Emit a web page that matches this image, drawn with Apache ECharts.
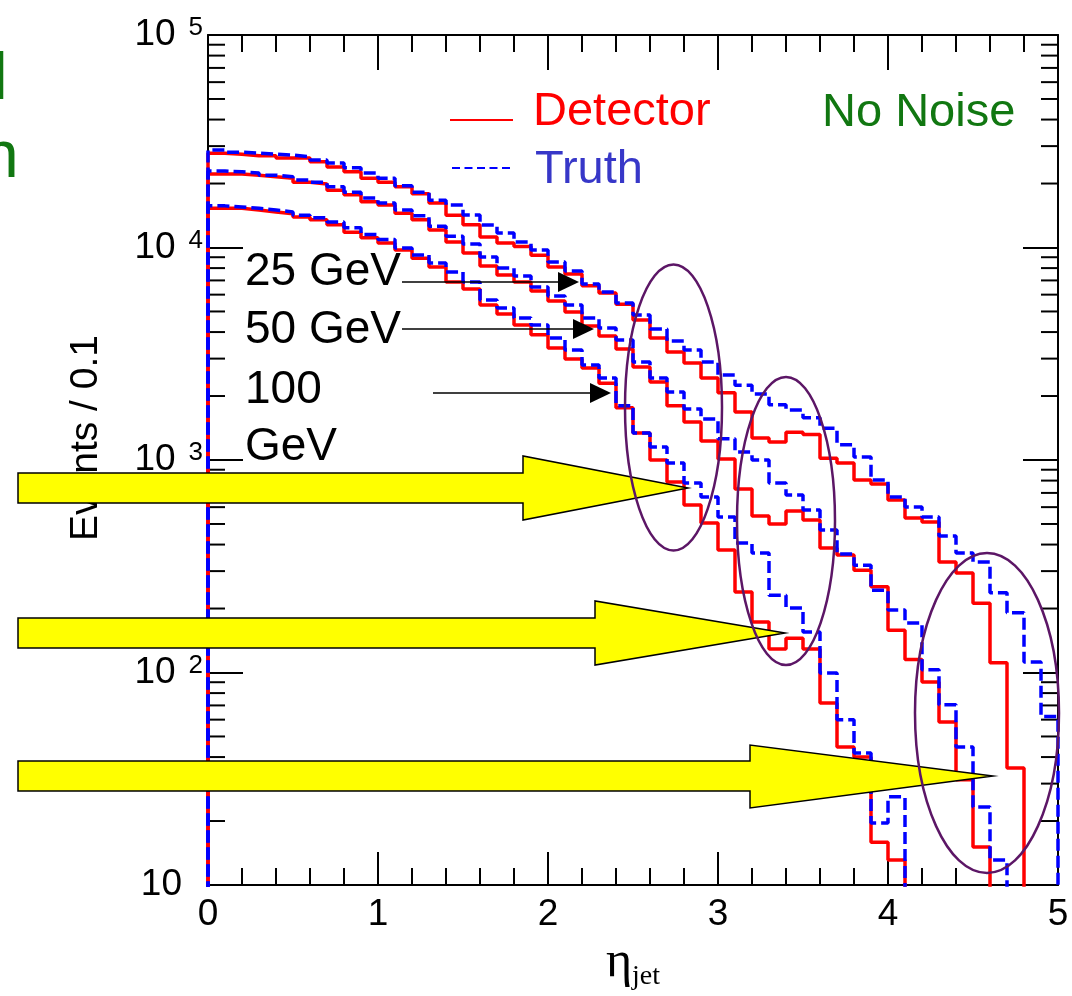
<!DOCTYPE html>
<html>
<head>
<meta charset="utf-8">
<script src="https://cdn.jsdelivr.net/npm/echarts@6/dist/echarts.min.js"></script>
<style>
html,body{margin:0;padding:0;background:#fff;}
#chart{width:1072px;height:996px;}
</style>
</head>
<body>
<div id="chart"></div>
<script>
// ---- data (events per 0.1 in eta; 0 = empty bin) ----
const ETA_LOW = [0.0,0.1,0.2,0.3,0.4,0.5,0.6,0.7,0.8,0.9,1.0,1.1,1.2,1.3,1.4,1.5,1.6,1.7,1.8,1.9,2.0,2.1,2.2,2.3,2.4,2.5,2.6,2.7,2.8,2.9,3.0,3.1,3.2,3.3,3.4,3.5,3.6,3.7,3.8,3.9,4.0,4.1,4.2,4.3,4.4,4.5,4.6,4.7,4.8,4.9];
const ETA_MAX = 5.0;

const DET_25 = [27800,27500,27000,27000,26400,26400,25300,23900,22700,21200,20300,19300,17900,16200,14200,12800,11200,10500,10100,9200,8100,7500,6600,6100,5400,4560,3750,3220,2860,2430,2070,1680,1270,1215,1350,1320,1020,968,805,771,648,534,511,331,294,212,111,35.5,0,0];
const TRUTH_25 = [28800,28100,27800,27500,27200,26700,25800,25000,23700,22400,21200,19500,18200,16700,15850,14220,12760,11700,10600,9730,8550,7750,6730,6170,5480,4810,4140,3630,3290,2890,2510,2250,2045,1820,1720,1580,1410,1180,1033,805,670,601,539,439,365,331,237,191,112,62];
const DET_50 = [22200,22200,21900,21500,21200,20300,19900,18600,17700,16400,15850,14500,13500,12090,10600,9420,8180,7420,6880,6240,5600,4970,4270,3830,3330,2740,2330,1800,1510,1230,1010,730,545,500,575,522,385,357,303,253,158,115,90.2,58.5,31.3,15.1,0,0,0,0];
const TRUTH_50 = [22900,22700,22400,21900,21500,20800,20300,19300,18200,17100,16200,15000,14100,12600,11300,10400,9020,8010,7340,6520,5910,5360,4660,4180,3670,2890,2430,2090,1740,1560,1260,1090,1000,780,684,581,468,361,320,244,197,171,103,70.5,44.6,23.3,13.1,0,0,0];
const DET_100 = [15300,15300,15000,14700,14400,13900,13500,12800,11800,11100,10500,9730,8900,8090,6880,6380,5360,4870,4320,3880,3370,2990,2710,2300,1760,1340,1000,788,614,505,377,239,173,129,145,129,71.9,44.6,40.0,15.9,13.1,0,0,0,0,0,0,0,0,0];
const TRUTH_100 = [15700,15500,15300,15000,14700,14200,13800,13200,12400,11500,10900,9950,9220,8460,7670,6880,5660,5190,4660,4320,3750,3290,2800,2430,1800,1340,1150,968,780,670,539,407,365,231,201,155,99.5,59.9,41.8,19.6,26.0,0,0,0,0,0,0,0,0,0];

// ---- axis decorations ----
const X_TICKS = [0,1,2,3,4,5];
const Y_MINOR = [20,30,40,50,60,70,80,90,200,300,400,500,600,700,800,900,2000,3000,4000,5000,6000,7000,8000,9000,20000,30000,40000,50000,60000,70000,80000,90000];
const Y_MIN = 10, Y_MAX = 100000;
const FLOOR = 1; // empty bins drawn below the axis minimum (clipped)

const SANS = "'Liberation Sans', Arial, sans-serif";
const SERIF = "'Liberation Serif', 'Times New Roman', serif";

function stepPoints(vals) {
  const pts = [[ETA_LOW[0], FLOOR]];
  vals.forEach((v, i) => pts.push([ETA_LOW[i], v > 0 ? v : FLOOR]));
  const last = vals[vals.length - 1];
  pts.push([ETA_MAX, last > 0 ? last : FLOOR]);
  pts.push([ETA_MAX, FLOOR]);
  return pts;
}

function histSeries(name, vals, color, dashed, z) {
  return {
    name: name, type: 'line', step: 'end', data: stepPoints(vals),
    symbol: 'none', showSymbol: false, clip: true, silent: true, z: z,
    lineStyle: { color: color, width: 3.5, type: dashed ? [12, 5] : 'solid' }
  };
}

const chart = echarts.init(document.getElementById('chart'), null, { renderer: 'canvas' });

const axisLineStyle = { color: '#000', width: 2 };

const txt = (text, x, y, fill, size, font) => ({
  type: 'text', z: 90, x: x, y: y,
  style: {
    text: text, fill: fill, font: size + 'px ' + (font || SANS),
    textAlign: 'left', textVerticalAlign: 'middle', align: 'left', verticalAlign: 'middle'
  }
});
const yellowArrow = (x0, sTop, sBot, baseX, hTop, hBot, tipX, tipY) => ({
  type: 'polygon', z: 100,
  shape: { points: [[x0, sTop], [baseX, sTop], [baseX, hTop], [tipX, tipY], [baseX, hBot], [baseX, sBot], [x0, sBot]] },
  style: { fill: '#ffff00', stroke: '#000', lineWidth: 1.5 }
});
const blackArrow = (x1, x2, y) => ([
  { type: 'line', z: 95, shape: { x1: x1, y1: y, x2: x2 - 18, y2: y }, style: { stroke: '#000', lineWidth: 1.5 } },
  { type: 'polygon', z: 95, shape: { points: [[x2 - 21, y - 10], [x2, y], [x2 - 21, y + 10]] }, style: { fill: '#000' } }
]);
const ellipse = (cx, cy, rx, ry) => ({
  type: 'ellipse', z: 101, shape: { cx: cx, cy: cy, rx: rx, ry: ry },
  style: { fill: 'none', stroke: '#5c1666', lineWidth: 2.5 }
});

const option = {
  animation: false,
  backgroundColor: '#ffffff',
  grid: { left: 208, right: 14, top: 35, bottom: 111, containLabel: false },
  xAxis: [
    {
      type: 'value', min: X_TICKS[0], max: X_TICKS[X_TICKS.length - 1], interval: 1, position: 'bottom',
      axisLine: { onZero: false, lineStyle: axisLineStyle },
      axisTick: { inside: true, length: 33, lineStyle: { color: '#000', width: 2 } },
      minorTick: { show: true, splitNumber: 5, length: 17, lineStyle: { color: '#000', width: 2 } },
      splitLine: { show: false },
      axisLabel: { fontSize: 37, fontFamily: SANS, color: '#000', margin: 11 },
      name: '{a|η}{b|jet}', nameLocation: 'middle', nameGap: 50,
      nameTextStyle: {
        rich: {
          a: { fontSize: 50, fontFamily: SERIF, color: '#000', lineHeight: 56 },
          b: { fontSize: 28, fontFamily: SERIF, color: '#000', lineHeight: 28, verticalAlign: 'bottom' }
        }
      }
    },
    {
      type: 'value', min: X_TICKS[0], max: X_TICKS[X_TICKS.length - 1], interval: 1, position: 'top',
      axisLine: { onZero: false, lineStyle: axisLineStyle },
      axisTick: { inside: true, length: 35, lineStyle: { color: '#000', width: 2 } },
      minorTick: { show: true, splitNumber: 5, length: 17, lineStyle: { color: '#000', width: 2 } },
      splitLine: { show: false }, axisLabel: { show: false }
    }
  ],
  yAxis: [
    {
      type: 'log', logBase: 10, min: Y_MIN, max: Y_MAX, position: 'left',
      axisLine: { onZero: false, lineStyle: axisLineStyle },
      axisTick: { inside: true, length: 35, lineStyle: { color: '#000', width: 2 } },
      minorTick: { show: false }, splitLine: { show: false },
      axisLabel: {
        margin: 5, color: '#000',
        formatter: function (v) {
          const e = Math.round(Math.log10(v));
          return e === 1 ? '{p|10}' : '{b|10}{s|' + e + '}';
        },
        rich: {
          b: { fontSize: 37, fontFamily: SANS, color: '#000', lineHeight: 40, padding: [9, 0, 9, 0] },
          p: { fontSize: 37, fontFamily: SANS, color: '#000', lineHeight: 40, padding: [0, 21, 0, 0] },
          s: { fontSize: 26, fontFamily: SANS, color: '#000', lineHeight: 26, verticalAlign: 'top', padding: [0, 0, 0, 13] }
        }
      }
    },
    {
      type: 'log', logBase: 10, min: Y_MIN, max: Y_MAX, position: 'right',
      axisLine: { onZero: false, lineStyle: axisLineStyle },
      axisTick: { inside: true, length: 35, lineStyle: { color: '#000', width: 2 } },
      minorTick: { show: false }, splitLine: { show: false }, axisLabel: { show: false }
    }
  ],
  series: [
    {
      type: 'custom', xAxisIndex: 0, yAxisIndex: 0, silent: true, z: 1,
      data: Y_MINOR.map(v => [X_TICKS[0], v]),
      encode: { x: 0, y: 1 },
      renderItem: function (params, api) {
        const v = api.value(1);
        const pL = api.coord([X_TICKS[0], v]);
        const pR = api.coord([X_TICKS[X_TICKS.length - 1], v]);
        return {
          type: 'group', children: [
            { type: 'line', shape: { x1: pL[0], y1: pL[1], x2: pL[0] + 17, y2: pL[1] }, style: { stroke: '#000', lineWidth: 2 } },
            { type: 'line', shape: { x1: pR[0] - 17, y1: pR[1], x2: pR[0], y2: pR[1] }, style: { stroke: '#000', lineWidth: 2 } }
          ]
        };
      }
    },
    histSeries('Detector 25 GeV', DET_25, '#ff0000', false, 3),
    histSeries('Detector 50 GeV', DET_50, '#ff0000', false, 3),
    histSeries('Detector 100 GeV', DET_100, '#ff0000', false, 3),
    histSeries('Truth 25 GeV', TRUTH_25, '#0000ff', true, 4),
    histSeries('Truth 50 GeV', TRUTH_50, '#0000ff', true, 4),
    histSeries('Truth 100 GeV', TRUTH_100, '#0000ff', true, 4)
  ],
  graphic: [].concat(
    [
      {
        type: 'text', z: 50, x: 86, y: 438, rotation: Math.PI / 2,
        style: { text: 'Events / 0.1', fill: '#000', font: '39px ' + SANS, textAlign: 'center', textVerticalAlign: 'middle', align: 'center', verticalAlign: 'middle' }
      },
      { type: 'line', z: 90, shape: { x1: 450, y1: 120, x2: 513, y2: 120 }, style: { stroke: '#ff0000', lineWidth: 2 } },
      txt('Detector', 533, 112, '#ff0000', 47),
      { type: 'line', z: 90, shape: { x1: 452, y1: 168, x2: 513, y2: 168 }, style: { stroke: '#0000ff', lineWidth: 2, lineDash: [8, 4.5] } },
      txt('Truth', 535, 170, '#3737c8', 47),
      txt('No Noise', 822, 113, '#117711', 47),
      txt('25 GeV', 245, 272, '#000', 46),
      txt('50 GeV', 245, 330, '#000', 46),
      txt('100', 245, 390, '#000', 46),
      txt('GeV', 245, 447, '#000', 46),
      txt('l', -7, 81, '#117711', 66),
      txt('n', -18, 159, '#117711', 66)
    ],
    blackArrow(402, 579, 282),
    blackArrow(402, 594, 329),
    blackArrow(433, 611, 393),
    [
      yellowArrow(18, 473, 503, 523, 456, 520, 688, 488),
      yellowArrow(18, 618, 648, 595, 601, 665, 785, 633),
      yellowArrow(18, 761, 791, 750, 745, 808, 993, 776),
      ellipse(673.5, 407.5, 48.5, 143),
      ellipse(786, 521, 49, 144),
      ellipse(987, 713, 72, 160)
    ]
  )
};

chart.setOption(option);
</script>
</body>
</html>
